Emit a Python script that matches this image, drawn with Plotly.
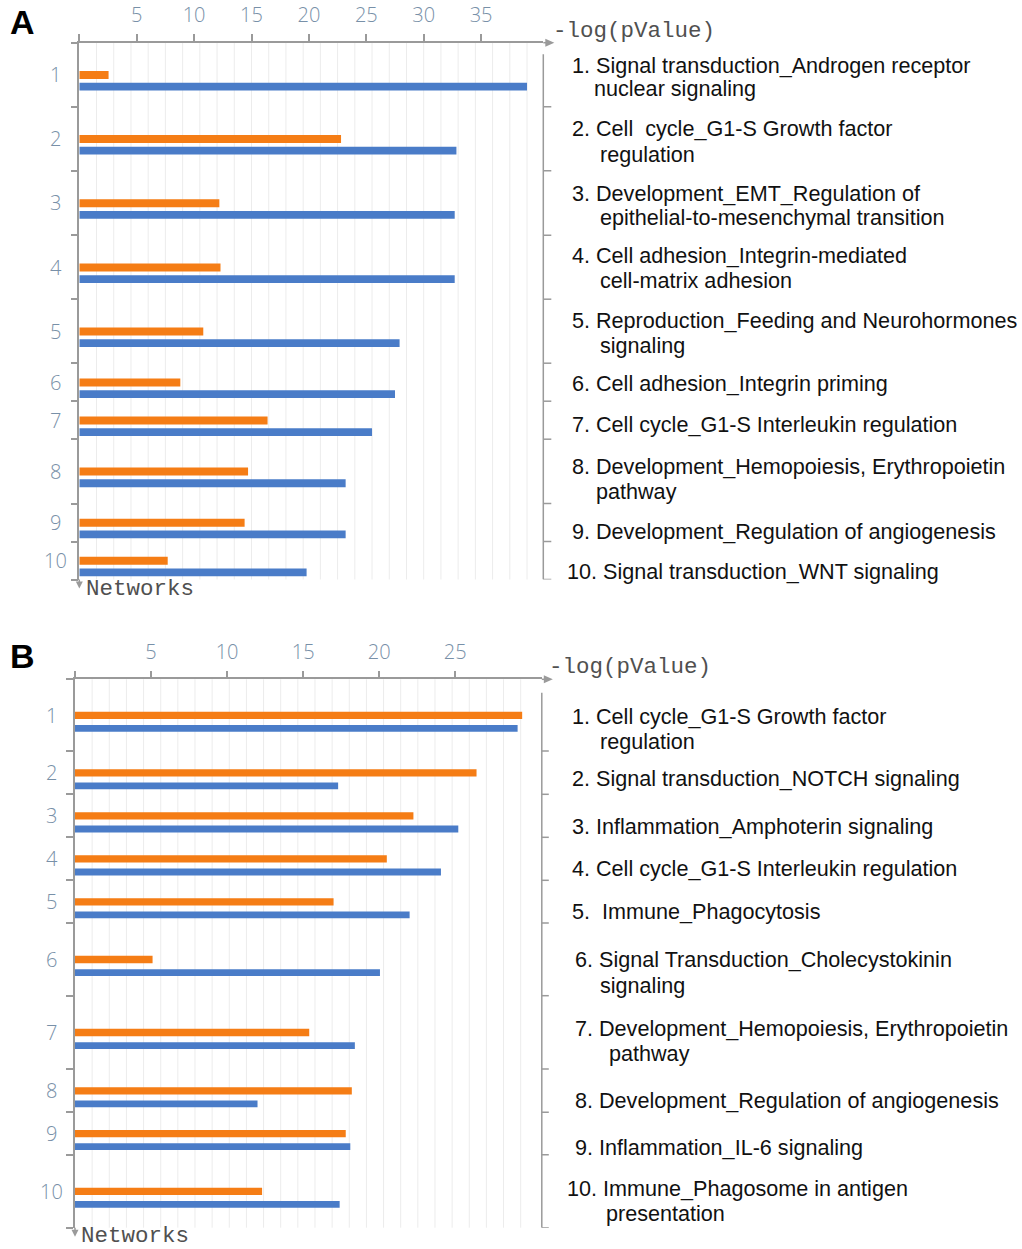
import plotly.graph_objects as go

W, H = 1022, 1249

# ---------------- DATA ----------------
networks = [str(i) for i in range(1, 11)]

a_orange = [2.55, 22.8, 12.2, 12.3, 10.8, 8.8, 16.4, 14.7, 14.4, 7.7]
a_blue = [39.0, 32.85, 32.7, 32.7, 27.9, 27.5, 25.5, 23.2, 23.2, 19.8]
a_tickvals = [0, 5, 10, 15, 20, 25, 30, 35]

b_orange = [29.4, 26.4, 22.25, 20.5, 17.0, 5.1, 15.4, 18.2, 17.8, 12.3]
b_blue = [29.1, 17.3, 25.2, 24.06, 22.0, 20.05, 18.4, 12.0, 18.1, 17.4]
b_tickvals = [0, 5, 10, 15, 20, 25]

a_labels = [
    ["1. Signal transduction_Androgen receptor", "nuclear signaling"],
    ["2. Cell\u00a0 cycle_G1-S Growth factor", "regulation"],
    ["3. Development_EMT_Regulation of", "epithelial-to-mesenchymal transition"],
    ["4. Cell adhesion_Integrin-mediated", "cell-matrix adhesion"],
    ["5. Reproduction_Feeding and Neurohormones", "signaling"],
    ["6. Cell adhesion_Integrin priming"],
    ["7. Cell cycle_G1-S Interleukin regulation"],
    ["8. Development_Hemopoiesis, Erythropoietin", "pathway"],
    ["9. Development_Regulation of angiogenesis"],
    ["10. Signal transduction_WNT signaling"],
]
b_labels = [
    ["1. Cell cycle_G1-S Growth factor", "regulation"],
    ["2. Signal transduction_NOTCH signaling"],
    ["3. Inflammation_Amphoterin signaling"],
    ["4. Cell cycle_G1-S Interleukin regulation"],
    ["5.\u00a0 Immune_Phagocytosis"],
    ["6. Signal Transduction_Cholecystokinin", "signaling"],
    ["7. Development_Hemopoiesis, Erythropoietin", "pathway"],
    ["8. Development_Regulation of angiogenesis"],
    ["9. Inflammation_IL-6 signaling"],
    ["10. Immune_Phagosome in antigen", "presentation"],
]
axis_title = "-log(pValue)"
cat_title = "Networks"

# ---------------- STYLE / LAYOUT (pixels) ----------------
ORANGE = "#F57D15"
BLUE = "#4A7CC8"
AXC = "#9a9a9a"
GRIDC = "#ececec"
TICKC = "#7890a8"
TICKFONT = dict(family="Open Sans", size=20, color=TICKC, weight=300)
LABFONT = dict(family="Liberation Sans", size=21.6, color="#111111")
MONOFONT = dict(family="Liberation Mono", size=22.5, color="#505050")

panels = [
    dict(ax="", letter="A", letter_y=22, top=42.7,
         rows=[64, 64, 64.5, 64, 64, 38, 38, 64.3, 38, 38],
         x0=79.3, x1=543.3, ppu=11.48, grid_step=1.5, n_grid=26,
         orange=a_orange, blue=a_blue, tickvals=a_tickvals, labels=a_labels,
         o_off=-3.8, o_w=8.0, b_off=8.0, b_w=7.8,
         bracket_gap=11.5, bracket_tick=8,
         title_xy=(551, 31), net_xy=(84, 589),
         label_lines=[[(572, 65), (594, 89)], [(572, 129), (600, 154)],
                      [(572, 193), (600, 218)], [(572, 256), (600, 280)],
                      [(572, 320), (600, 345)], [(572, 383)], [(572, 424)],
                      [(572, 466), (596, 491)], [(572, 531)], [(567, 571)]]),
    dict(ax="2", letter="B", letter_y=656, top=679.3,
         rows=[71.7, 43.3, 43.0, 43.0, 42.7, 72.7, 73.3, 43.3, 42.4, 73.0],
         x0=75.0, x1=541.8, ppu=15.21, grid_step=1.127, n_grid=26,
         orange=b_orange, blue=b_blue, tickvals=b_tickvals, labels=b_labels,
         o_off=-3.5, o_w=7.3, b_off=9.8, b_w=6.8,
         bracket_gap=13.4, bracket_tick=7,
         title_xy=(547, 667), net_xy=(79, 1236),
         label_lines=[[(572, 716), (600, 741)], [(572, 778)], [(572, 826)],
                      [(572, 869)], [(572, 911)], [(575, 959), (600, 985)],
                      [(575, 1028), (609, 1053)], [(575, 1100)], [(575, 1147)],
                      [(567, 1188), (606, 1213)]]),
]

fig = go.Figure()
shapes = []
annotations = []
layout = {}

for p in panels:
    xa = "x" + p["ax"]
    ya = "y" + p["ax"]
    top = p["top"]
    bounds = [top]
    for r in p["rows"]:
        bounds.append(bounds[-1] + r)
    bottom = bounds[-1]
    centers = [(bounds[i] + bounds[i + 1]) / 2 for i in range(len(p["rows"]))]
    xmax = (p["x1"] - p["x0"]) / p["ppu"]

    fig.add_trace(go.Bar(x=p["orange"], y=centers, orientation="h",
                         width=p["o_w"], offset=p["o_off"],
                         marker=dict(color=ORANGE, line=dict(width=0)),
                         xaxis=xa, yaxis=ya, showlegend=False, hoverinfo="skip"))
    fig.add_trace(go.Bar(x=p["blue"], y=centers, orientation="h",
                         width=p["b_w"], offset=p["b_off"],
                         marker=dict(color=BLUE, line=dict(width=0)),
                         xaxis=xa, yaxis=ya, showlegend=False, hoverinfo="skip"))

    layout["xaxis" + p["ax"]] = dict(
        domain=[p["x0"] / W, p["x1"] / W], range=[0, xmax], side="top",
        anchor=ya, showline=True, linecolor=AXC, linewidth=1.5,
        tickmode="array", tickvals=p["tickvals"],
        ticktext=["" if v == 0 else str(v) for v in p["tickvals"]],
        ticks="outside", ticklen=7, tickwidth=1.5, tickcolor=AXC,
        tickfont=TICKFONT, ticklabelstandoff=4,
        showgrid=False, zeroline=False, fixedrange=True)
    layout["yaxis" + p["ax"]] = dict(
        domain=[1 - bottom / H, 1 - top / H], range=[bottom, top],
        anchor=xa, showline=True, linecolor=AXC, linewidth=1.5,
        tickmode="array", tickvals=centers, ticktext=networks,
        showticklabels=False, ticks="",
        minor=dict(tickmode="array", tickvals=bounds, ticks="outside",
                   ticklen=7, tickwidth=1.5, tickcolor=AXC, showgrid=False),
        showgrid=False, zeroline=False, fixedrange=True)

    # vertical gridlines
    for k in range(1, p["n_grid"] + 1):
        shapes.append(dict(type="line", xref=xa, yref=ya + " domain",
                           x0=k * p["grid_step"], x1=k * p["grid_step"], y0=0, y1=1,
                           layer="below", line=dict(color=GRIDC, width=1)))
    # right bracket
    dw = p["x1"] - p["x0"]
    shapes.append(dict(type="line", xref=xa + " domain", yref=ya,
                       x0=1, x1=1, y0=top + p["bracket_gap"], y1=bottom,
                       line=dict(color=AXC, width=1.5)))
    for b in bounds[1:]:
        shapes.append(dict(type="line", xref=xa + " domain", yref=ya,
                           x0=1, x1=1 + p["bracket_tick"] / dw, y0=b, y1=b,
                           line=dict(color=AXC, width=1.5)))

    # axis extensions + arrowheads (paper referenced, pixel sized)
    shapes.append(dict(type="line", xref="paper", yref="paper",
                       x0=p["x1"] / W, x1=(p["x1"] + 4) / W,
                       y0=1 - top / H, y1=1 - top / H,
                       line=dict(color=AXC, width=1.5)))
    shapes.append(dict(type="path", xref="paper", yref="paper",
                       xsizemode="pixel", ysizemode="pixel",
                       xanchor=(p["x1"] + 11) / W, yanchor=1 - top / H,
                       path="M 0,0 L -9,4 L -9,-4 Z",
                       fillcolor=AXC, line=dict(width=0)))
    shapes.append(dict(type="line", xref="paper", yref="paper",
                       x0=p["x0"] / W, x1=p["x0"] / W,
                       y0=1 - bottom / H, y1=1 - (bottom + 3) / H,
                       line=dict(color=AXC, width=1.5)))
    shapes.append(dict(type="path", xref="paper", yref="paper",
                       xsizemode="pixel", ysizemode="pixel",
                       xanchor=p["x0"] / W, yanchor=1 - (bottom + 9) / H,
                       path="M 0,0 L -3.5,7 L 3.5,7 Z",
                       fillcolor=AXC, line=dict(width=0)))

    # category numbers (centered)
    cx = (p["x0"] - 23.5) / W
    for c, name in zip(centers, networks):
        annotations.append(dict(xref="paper", yref=ya, x=cx, y=c, text=name,
                                showarrow=False, xanchor="center", yanchor="middle",
                                font=TICKFONT))

    # axis titles
    tx, ty = p["title_xy"]
    annotations.append(dict(xref="paper", yref="paper", x=tx / W, y=1 - ty / H,
                            text=axis_title, showarrow=False, xanchor="left",
                            yanchor="middle", font=MONOFONT))
    nx, ny = p["net_xy"]
    annotations.append(dict(xref="paper", yref="paper", x=nx / W, y=1 - ny / H,
                            text=cat_title, showarrow=False, xanchor="left",
                            yanchor="middle", font=MONOFONT))
    # panel letter
    annotations.append(dict(xref="paper", yref="paper", x=22 / W, y=1 - p["letter_y"] / H,
                            text="<b>" + p["letter"] + "</b>", showarrow=False,
                            xanchor="center", yanchor="middle",
                            font=dict(family="Liberation Sans", size=34, color="#000000")))
    # pathway labels
    for lines, pos in zip(p["labels"], p["label_lines"]):
        for txt, (lx, ly) in zip(lines, pos):
            annotations.append(dict(xref="paper", yref="paper", x=(lx - 2) / W,
                                    y=1 - ly / H, text=txt, showarrow=False,
                                    xanchor="left", yanchor="middle", font=LABFONT))

fig.update_layout(
    width=W, height=H, autosize=False,
    margin=dict(l=0, r=0, t=0, b=0),
    paper_bgcolor="white", plot_bgcolor="white",
    barmode="overlay", shapes=shapes, annotations=annotations,
    **layout,
)

fig.write_html(
    "out.html",
    config={"displayModeBar": False},
    post_script="document.body.style.margin='0';document.body.style.overflow='hidden';",
)
